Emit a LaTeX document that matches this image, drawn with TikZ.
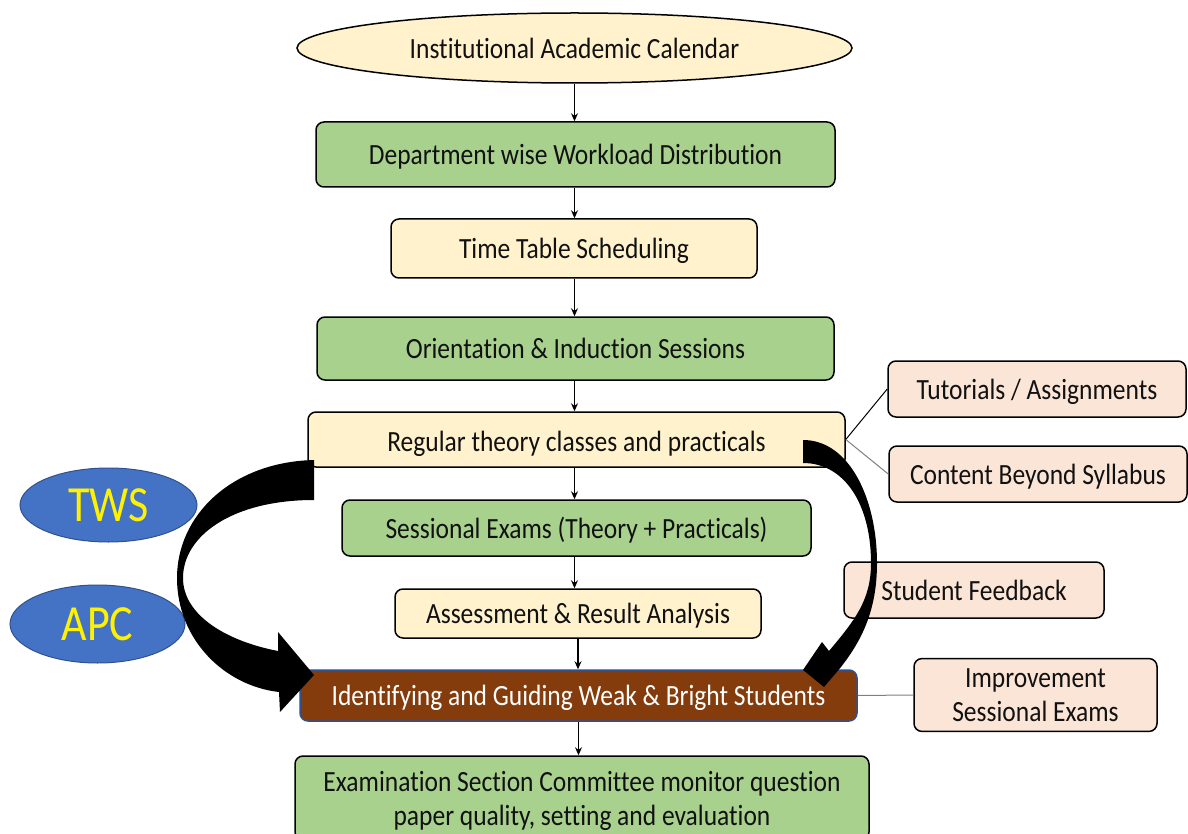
\documentclass[tikz,border=0pt]{standalone}
\usepackage{fontspec}
\setmainfont{Carlito}[Ligatures=NoCommon]
\usepackage{graphicx}
\usetikzlibrary{shapes.geometric,arrows.meta}
\definecolor{cgreen}{HTML}{A9D18E}
\definecolor{cyel}{HTML}{FFF2CC}
\definecolor{cpeach}{HTML}{FBE5D6}
\definecolor{cbrown}{HTML}{843C0C}
\definecolor{cblue}{HTML}{4472C4}
\definecolor{cbluedk}{HTML}{2F528F}
\definecolor{ctxt}{HTML}{111111}
\newcommand{\stb}[1]{\scalebox{1}[1.15]{#1}}
\newcommand{\stx}[2][5pt]{\raisebox{0pt}[\dimexpr\height+#1\relax][\depth]{\scalebox{1}[1.15]{#2}}}
\newcommand{\mfs}{\fontsize{25.5}{29.5}\selectfont}
\tikzset{
  box/.style={draw=black, line width=1.5pt, rounded corners=8pt, inner sep=0pt, font=\mfs, text=ctxt, align=center},
  gbox/.style={box, fill=cgreen},
  ybox/.style={box, fill=cyel},
  pbox/.style={box, fill=cpeach},
  blueell/.style={ellipse, draw=cbluedk, line width=1pt, fill=cblue, inner sep=0pt, text=yellow, font=\fontsize{44}{50}\selectfont},
  flow/.style={-{Stealth[length=8pt,width=7pt]}, line width=1.1pt, black},
  thin/.style={line width=1pt},
}
\begin{document}
\begin{tikzpicture}[x=1pt,y=-1pt]
\useasboundingbox (0,0) rectangle (1188,834);
\fill[white] (0,0) rectangle (1188,834);
% main column
\node[ellipse, draw=black, line width=1.5pt, fill=cyel, minimum width=555, minimum height=70, inner sep=0pt, font=\mfs, text=ctxt] (ell) at (574.5,48) {\stb{Institutional Academic Calendar}};
\node[gbox, minimum width=519, minimum height=65] (b1) at (575.5,154.5) {\stx{Department wise Workload Distribution}};
\node[ybox, minimum width=366, minimum height=59] (b2) at (574,248.5) {\stx{Time Table Scheduling}};
\node[gbox, minimum width=517, minimum height=63] (b3) at (575.5,348.5) {\stb{Orientation \& Induction Sessions}};
\node[ybox, minimum width=537, minimum height=55] (b4) at (576.5,439.5) {\stx[8pt]{Regular theory classes and practicals}};
\node[gbox, minimum width=469, minimum height=56] (b5) at (576.5,528) {\stx{Sessional Exams (Theory + Practicals)}};
\node[ybox, minimum width=366, minimum height=49] (b6) at (578,613.5) {\stx{Assessment \& Result Analysis}};
\node[box, draw=cbluedk, fill=cbrown, text=white, minimum width=557, minimum height=51] (b7) at (578.5,695.5) {\stx{Identifying and Guiding Weak \& Bright Students}};
\node[gbox, minimum width=574, minimum height=84] (b8) at (582,798) {\stx[8pt]{\begin{tabular}{c}Examination Section Committee monitor question\\paper quality, setting and evaluation\end{tabular}}};
% side boxes
\node[pbox, minimum width=298, minimum height=56] (tut) at (1037,389) {\stx{Tutorials / Assignments}};
\node[pbox, minimum width=298, minimum height=56] (cbs) at (1038,474) {\stx{Content Beyond Syllabus}};
\node[pbox, minimum width=260, minimum height=56] (sf) at (974,590) {\stb{Student Feedback}};
\node[pbox, minimum width=243, minimum height=70] (imp) at (1035.5,695) {\stx{\begin{tabular}{c}Improvement\\Sessional Exams\end{tabular}}};
% left ellipses
\node[blueell, minimum width=177, minimum height=74] (tws) at (108.5,505) {\stb{TWS}};
\node[blueell, minimum width=175, minimum height=78] (apc) at (97.5,624) {\stb{APC}};
% flow arrows
\draw[flow] (ell.south) -- (ell.south |- b1.north);
\draw[flow] (ell.south |- b1.south) -- (ell.south |- b2.north);
\draw[flow] (ell.south |- b2.south) -- (ell.south |- b3.north);
\draw[flow] (ell.south |- b3.south) -- (ell.south |- b4.north);
\draw[flow] (ell.south |- b4.south) -- (ell.south |- b5.north);
\draw[flow] (ell.south |- b5.south) -- (ell.south |- b6.north);
\draw[flow] (b6.south) -- (b6.south |- b7.north);
\draw[flow] (b7.south) -- (b7.south |- b8.north);
% side connectors
\draw[thin, black] (b4.east) -- (tut.west);
\draw[thin, gray] (b4.east) -- (cbs.west);
\draw[thin, gray] (b7.east) -- (imp.west);
% big curved arrows
\fill[black] (314,460) .. controls (232,462) and (177,515) .. (177,578)
  .. controls (177,640) and (225,686) .. (279,692)
  -- (280,712) -- (314,675) -- (278,632) -- (278,651)
  .. controls (226,641) and (183,615) .. (183,578)
  .. controls (183,536) and (232,500) .. (314,500) -- cycle;
\fill[black] (803,440) .. controls (850,440) and (877,500) .. (877,563)
  .. controls (877,610) and (862,640) .. (841,667)
  -- (824,687) -- (803,670) -- (822,642) -- (829,651)
  .. controls (855,620) and (871,600) .. (871,563)
  .. controls (871,505) and (845,463) .. (803,463) -- cycle;
\end{tikzpicture}
\end{document}
